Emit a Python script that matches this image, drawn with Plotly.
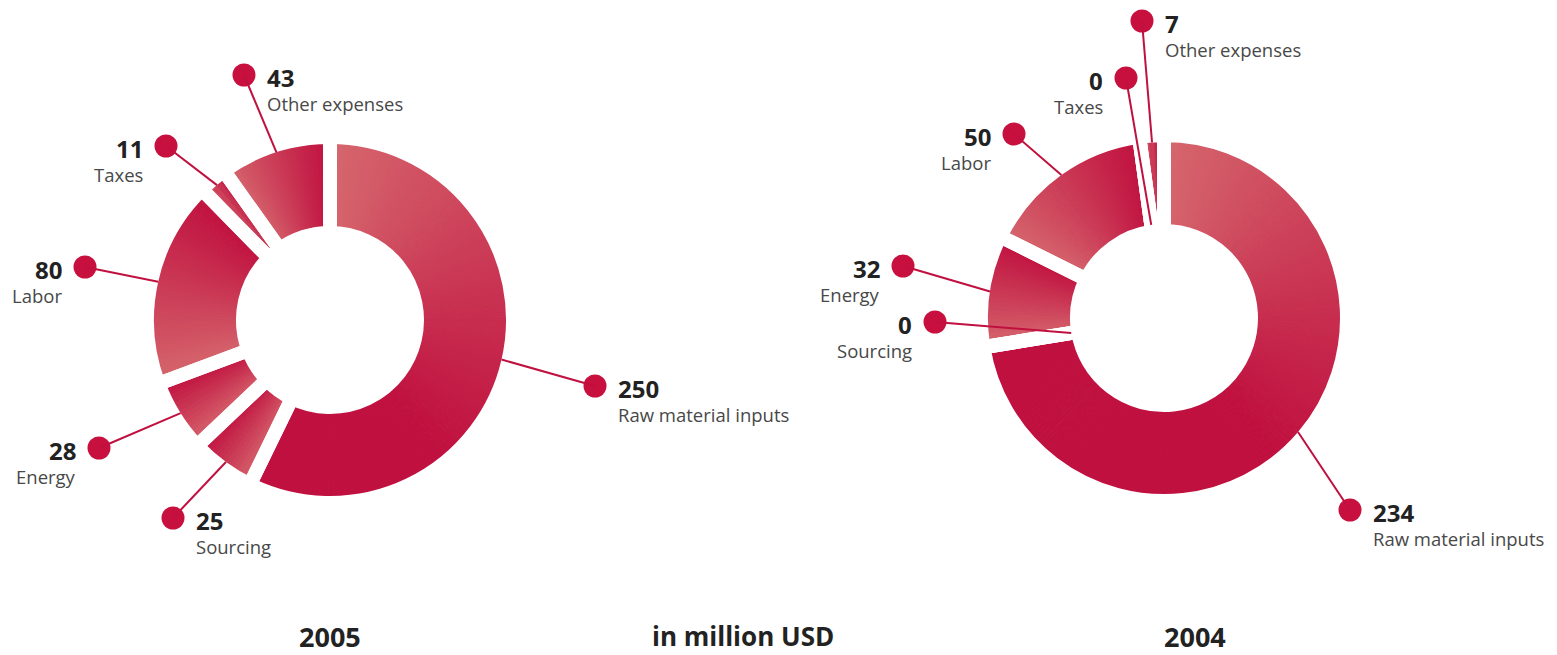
import math
import plotly.graph_objects as go

# ---- data -------------------------------------------------------------
categories = ["Raw material inputs", "Sourcing", "Energy", "Labor", "Taxes", "Other expenses"]
values_2005 = [250, 25, 28, 80, 11, 43]
values_2004 = [234, 0, 32, 50, 0, 7]
years = ["2005", "2004"]
unit_label = "in million USD"

# ---- page / ring geometry (pixels) ------------------------------------
W, H = 1557, 655
R_OUT = 176          # visible outer radius
R_IN = 94            # visible inner radius
GAP = 14             # white gap between segments
CENTERS = {"2005": (330, 320), "2004": (1164, 318)}

LIGHT = (214, 104, 110)
DARK = (192, 16, 63)
ACCENT = "#C0103F"
DOT = "#C8103F"
FONT = "Open Sans"

# label anchor: dot centre and which side the text sits on
LABELS = {
    "2005": {
        "Raw material inputs": ((595, 386), "right"),
        "Sourcing": ((173, 518), "right"),
        "Energy": ((99, 448), "left"),
        "Labor": ((85, 267), "left"),
        "Taxes": ((166, 146), "left"),
        "Other expenses": ((244, 75), "right"),
    },
    "2004": {
        "Raw material inputs": ((1350, 510), "right"),
        "Sourcing": ((935, 322), "left"),
        "Energy": ((903, 266), "left"),
        "Labor": ((1014, 134), "left"),
        "Taxes": ((1126, 78), "left"),
        "Other expenses": ((1142, 21), "right"),
    },
}


def mix(t):
    r, g, b = (round(LIGHT[i] + (DARK[i] - LIGHT[i]) * t) for i in range(3))
    return f"rgb({r},{g},{b})"


def domain_for(cx, cy):
    R = R_OUT + GAP / 2
    return dict(x=[(cx - R) / W, (cx + R) / W],
                y=[(H - cy - R) / H, (H - cy + R) / H])


def ring_point(cx, cy, angle_deg, r):
    a = math.radians(angle_deg)
    return cx + r * math.sin(a), cy - r * math.cos(a)


fig = go.Figure()
shapes, annotations = [], []
dot_x, dot_y = [], []

R_DOM = R_OUT + GAP / 2
hole = (R_IN - GAP / 2) / R_DOM

for year, vals in zip(years, [values_2005, values_2004]):
    cx, cy = CENTERS[year]
    total = sum(vals)
    dom = domain_for(cx, cy)

    # shaded segments: each segment is split into thin wedges that fade
    # from a light tone at its leading edge to the deep crimson
    sub_vals, sub_cols = [], []
    for v in vals:
        if v <= 0:
            continue
        theta = v / total * 360
        n = max(4, int(round(theta / 1.5)))
        span = min(theta, 140)
        for k in range(n):
            a = (k + 0.5) / n * theta
            t = min(1.0, a / span) ** 0.9
            sub_vals.append(v / n)
            sub_cols.append(mix(t))
    fig.add_trace(go.Pie(
        values=sub_vals, sort=False, direction="clockwise", rotation=0,
        hole=hole, domain=dom, textinfo="none", hoverinfo="skip",
        showlegend=False,
        marker=dict(colors=sub_cols, line=dict(color=sub_cols, width=1)),
    ))
    # white separators between the segments
    fig.add_trace(go.Pie(
        labels=categories, values=vals, sort=False, direction="clockwise",
        rotation=0, hole=hole, domain=dom, textinfo="none",
        hoverinfo="label+value", showlegend=False,
        marker=dict(colors=["rgba(0,0,0,0)"] * len(vals),
                    line=dict(color="white", width=GAP)),
    ))

    # leader lines, dots and labels
    cum = 0.0
    for cat, v in zip(categories, vals):
        start = cum / total * 360
        cum += v
        theta = v / total * 360
        (dx, dy), side = LABELS[year][cat]
        if v > 0:
            ex, ey = ring_point(cx, cy, start + theta / 2, R_OUT)
        else:
            ex, ey = ring_point(cx, cy, start, R_IN)
        shapes.append(dict(type="line", xref="x", yref="y", layer="above",
                           x0=dx, y0=dy, x1=ex, y1=ey,
                           line=dict(color=ACCENT, width=2)))
        dot_x.append(dx)
        dot_y.append(dy)
        if side == "right":
            tx, anchor = dx + 21, "left"
        else:
            tx, anchor = dx - 21, "right"
        annotations.append(dict(
            x=tx, y=dy + 2, xref="x", yref="y", xanchor=anchor, yanchor="middle",
            text=f"<b>{v}</b>", showarrow=False,
            font=dict(family=FONT, size=24, color="#222222")))
        annotations.append(dict(
            x=tx, y=dy + 28, xref="x", yref="y", xanchor=anchor, yanchor="middle",
            text=cat, showarrow=False,
            font=dict(family=FONT, size=18.5, color="#484848")))

fig.add_trace(go.Scatter(
    x=dot_x, y=dot_y, mode="markers", hoverinfo="skip", showlegend=False,
    marker=dict(size=23, color=DOT, line=dict(width=0)),
))

# captions along the bottom
for txt, x, size in [(years[0], 330, 27), (unit_label, 743, 26), (years[1], 1195, 27)]:
    annotations.append(dict(
        x=x, y=636, xref="x", yref="y", xanchor="center", yanchor="middle",
        text=f"<b>{txt}</b>", showarrow=False,
        font=dict(family=FONT, size=size, color="#222222")))

fig.update_layout(
    width=W, height=H, margin=dict(l=0, r=0, t=0, b=0),
    paper_bgcolor="white", plot_bgcolor="white",
    xaxis=dict(range=[0, W], visible=False, fixedrange=True),
    yaxis=dict(range=[H, 0], visible=False, fixedrange=True),
    shapes=shapes, annotations=annotations,
)

fig.write_html("out.html")
